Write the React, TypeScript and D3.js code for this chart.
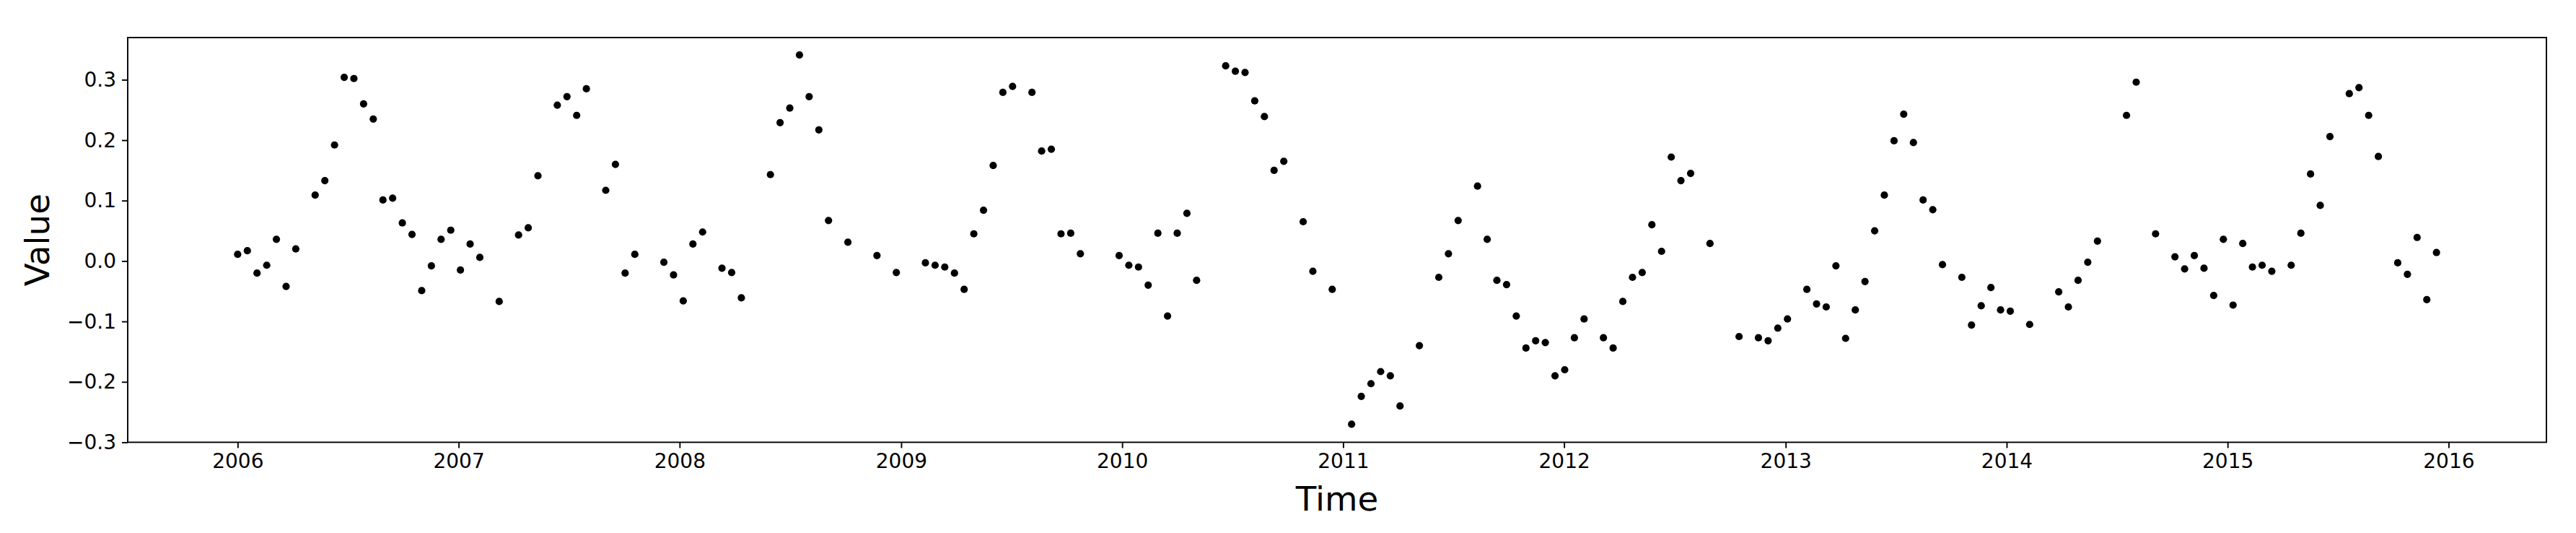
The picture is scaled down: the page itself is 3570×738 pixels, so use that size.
import React, { useEffect, useRef } from 'react';
import * as d3 from 'd3';

// 16-day composite index (0 = 2006-01-01); gaps are missing composites
const slots = [
  0, 1, 2, 3, 4, 5, 6, 8, 9, 10, 11, 12, 13, 14, 15, 16, 17, 18, 19, 20, 21, 22,
  23, 24, 25, 27, 29, 30, 31, 33, 34, 35, 36, 38, 39, 40, 41, 44, 45,
  46, 47, 48, 50, 51, 52, 55, 56, 57, 58, 59, 60, 61, 63, 66, 68,
  71, 72, 73, 74, 75, 76, 77, 78, 79, 80, 82, 83, 84, 85, 86, 87, 91,
  92, 93, 94, 95, 96, 97, 98, 99, 102, 103, 104, 105, 106, 107, 108, 110, 111, 113,
  115, 116, 117, 118, 119, 120, 122, 124, 125, 126, 128, 129, 130, 131, 132, 133, 134, 135, 136,
  137, 138, 139, 141, 142, 143, 144, 145, 146, 147, 148, 149, 150, 152, 155, 157, 158, 159,
  160, 162, 163, 164, 165, 166, 167, 168, 169, 170, 171, 172, 173, 174, 175, 176, 178, 179, 180, 181, 182,
  183, 185, 188, 189, 190, 191, 192, 195, 196, 198, 200, 201, 202, 203, 204, 205,
  206, 207, 208, 209, 210, 212, 213, 214, 215, 216, 218, 219, 220, 221, 223, 224, 225, 226, 227,
];

const values = [
  0.011, 0.017, -0.020, -0.007, 0.036, -0.042, 0.020, 0.109, 0.133, 0.192, 0.304, 0.302, 0.260, 0.235, 0.101, 0.104, 0.063, 0.044, -0.049, -0.008, 0.036, 0.051,
  -0.015, 0.028, 0.006, -0.067, 0.043, 0.055, 0.141, 0.258, 0.272, 0.241, 0.285, 0.117, 0.160, -0.020, 0.011, -0.002, -0.023,
  -0.066, 0.028, 0.048, -0.012, -0.019, -0.061, 0.143, 0.229, 0.253, 0.341, 0.272, 0.217, 0.067, 0.031, 0.009, -0.019,
  -0.003, -0.007, -0.010, -0.020, -0.047, 0.045, 0.084, 0.158, 0.279, 0.289, 0.279, 0.182, 0.185, 0.045, 0.046, 0.012, 0.009,
  -0.007, -0.010, -0.040, 0.046, -0.091, 0.046, 0.079, -0.032, 0.323, 0.314, 0.312, 0.265, 0.239, 0.150, 0.165, 0.065, -0.017, -0.047,
  -0.270, -0.224, -0.203, -0.183, -0.190, -0.240, -0.140, -0.027, 0.012, 0.067, 0.124, 0.036, -0.032, -0.039, -0.091, -0.144, -0.132, -0.135, -0.190,
  -0.180, -0.127, -0.096, -0.127, -0.144, -0.067, -0.027, -0.019, 0.060, 0.016, 0.172, 0.133, 0.145, 0.029, -0.125, -0.127, -0.132, -0.111,
  -0.096, -0.047, -0.071, -0.076, -0.008, -0.128, -0.081, -0.034, 0.050, 0.109, 0.199, 0.243, 0.196, 0.101, 0.085, -0.006, -0.027, -0.106, -0.074, -0.044, -0.081,
  -0.083, -0.105, -0.051, -0.076, -0.032, -0.002, 0.033, 0.241, 0.296, 0.045, 0.007, -0.013, 0.009, -0.012, -0.057, 0.036,
  -0.073, 0.029, -0.010, -0.007, -0.017, -0.007, 0.046, 0.144, 0.092, 0.206, 0.277, 0.287, 0.241, 0.173, -0.003, -0.022, 0.039, -0.064, 0.014,
];

const yTicks = [-0.3, -0.2, -0.1, 0.0, 0.1, 0.2, 0.3];

const START = Date.UTC(2006, 0, 1);
const STEP_DAYS = 16;

const App = () => {
  const ref = useRef<SVGSVGElement>(null);

  useEffect(() => {
    const width = 3570;
    const height = 738;
    const left = 177, right = 3529, top = 52, bottom = 612.4;
    const font = 'DejaVu Sans, sans-serif';

    const data = slots.map((s, i) => ({
      date: new Date(START + s * STEP_DAYS * 86400000),
      value: values[i],
    }));

    const svg = d3.select(ref.current);
    svg.selectAll('*').remove();
    svg.attr('width', width).attr('height', height);

    // matplotlib-like 5% margins on the dates
    const [d0, d1] = d3.extent(data, d => d.date) as [Date, Date];
    const pad = (d1.getTime() - d0.getTime()) * 0.05;
    const x = d3.scaleUtc()
      .domain([new Date(d0.getTime() - pad), new Date(d1.getTime() + pad)])
      .range([left, right]);

    const y = d3.scaleLinear()
      .domain([-0.3, 0.3698])
      .range([bottom, top]);

    svg.append('rect').attr('width', width).attr('height', height).attr('fill', 'white');

    svg.append('g')
      .selectAll('circle')
      .data(data)
      .join('circle')
      .attr('cx', d => x(d.date))
      .attr('cy', d => y(d.value))
      .attr('r', 5.1)
      .attr('fill', 'black');

    const xAxis = svg.append('g')
      .attr('transform', `translate(0,${bottom})`)
      .call(d3.axisBottom(x)
        .ticks(d3.utcYear.every(1))
        .tickFormat(d3.utcFormat('%Y') as any)
        .tickSize(8)
        .tickPadding(8));

    const yAxis = svg.append('g')
      .attr('transform', `translate(${left},0)`)
      .call(d3.axisLeft(y)
        .tickValues(yTicks)
        .tickFormat(d3.format('.1f'))
        .tickSize(8)
        .tickPadding(8));

    [xAxis, yAxis].forEach(g => {
      g.select('.domain').remove();
      g.selectAll('.tick line').attr('stroke', 'black').attr('stroke-width', 1.9);
      g.selectAll('.tick text')
        .attr('fill', 'black')
        .attr('font-family', font)
        .attr('font-size', 28);
    });

    // spines
    svg.append('rect')
      .attr('x', left)
      .attr('y', top)
      .attr('width', right - left)
      .attr('height', bottom - top)
      .attr('fill', 'none')
      .attr('stroke', 'black')
      .attr('stroke-width', 1.9);

    svg.append('text')
      .attr('x', (left + right) / 2)
      .attr('y', 707)
      .attr('text-anchor', 'middle')
      .attr('font-family', font)
      .attr('font-size', 46.7)
      .attr('fill', 'black')
      .text('Time');

    svg.append('text')
      .attr('transform', `translate(68,${(top + bottom) / 2}) rotate(-90)`)
      .attr('text-anchor', 'middle')
      .attr('font-family', font)
      .attr('font-size', 46.7)
      .attr('fill', 'black')
      .text('Value');
  }, []);

  return (
    <div style={{ position: 'absolute', left: 0, top: 0 }}>
      <svg ref={ref} style={{ display: 'block' }}></svg>
    </div>
  );
};

export default App;
